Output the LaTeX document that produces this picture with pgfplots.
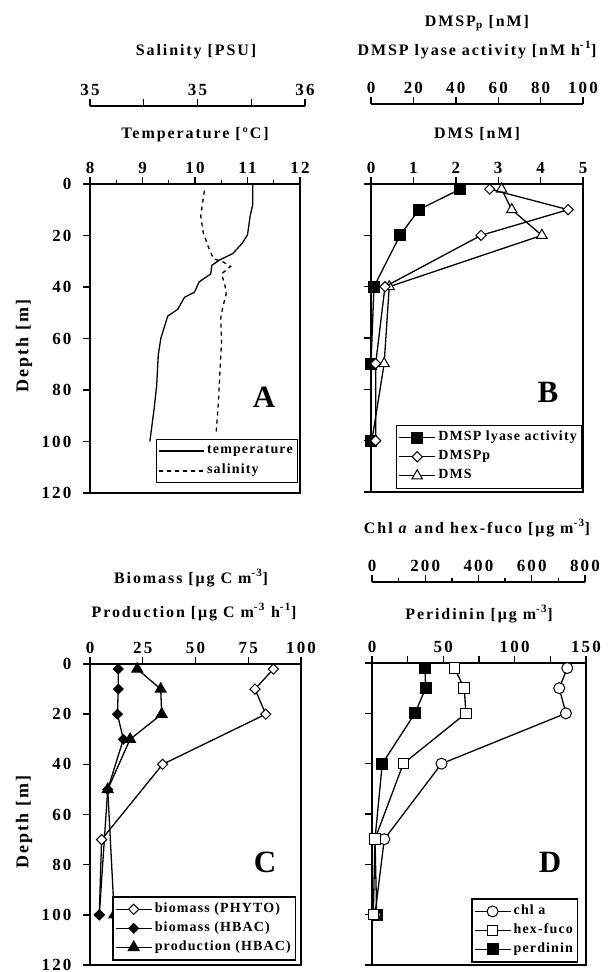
\documentclass[border=0pt]{standalone}
\usepackage{fontspec}
\setmainfont{Liberation Serif}
\newfontfamily\tf{Liberation Serif}[LetterSpace=12]
\newfontfamily\tkf{Liberation Serif}[LetterSpace=13]
\newfontfamily\lgf{Liberation Serif}[LetterSpace=8]
\usepackage{pgfplots}
\pgfplotsset{compat=1.18}
\newcommand{\TT}{\tf\bfseries\fontsize{16}{18}\selectfont}
\newcommand{\TD}{\tf\bfseries\fontsize{18}{20}\selectfont}
\newcommand{\TK}{\tkf\bfseries\fontsize{17}{19}\selectfont}
\newcommand{\LG}{\lgf\bfseries\fontsize{14}{16}\selectfont}
\pgfplotsset{
  leg/.style={
    legend cell align=left,
    legend style={font=\LG, draw=black, line width=1.3pt, fill=white, inner xsep=2pt, inner ysep=3pt,
      nodes={inner sep=2.5pt, text height=10pt, text depth=4pt}},
    legend image code/.code={\draw[mark repeat=2,mark phase=2,##1] plot coordinates {(0pt,0pt) (18pt,0pt) (36pt,0pt)};},
  },
  panel/.style={
    scale only axis, y dir=reverse, ymin=0, ymax=120, ytick={0,20,...,120},
    axis line style={line width=1.6pt},
    tick align=outside, xtick pos=top, xticklabel pos=top, ytick pos=left,
    major tick length=7pt, minor tick length=4pt,
    tick style={line width=1.4pt, black},
    tick label style={font=\TK},
    yticklabel style={xshift=-8pt},
    /pgf/number format/assume math mode=true,
    clip=false, leg,
  },
  over/.style={scale only axis, y dir=reverse, ymin=0, ymax=120, hide axis, clip=false, leg},
  scalebar/.style={scale only axis, height=1pt, ymin=0, ymax=1, hide y axis, axis x line*=top,
    tick align=outside, axis line style={line width=1.6pt}, major tick length=7pt, minor tick length=4pt,
    tick style={line width=1.4pt, black}, tick label style={font=\TK},
    /pgf/number format/assume math mode=true},
  ln/.style={black, line width=1.3pt},
}
\begin{document}
\begin{tikzpicture}
\useasboundingbox (0pt,0pt) rectangle (608pt,-972pt);
%================ Panel A
\begin{axis}[panel, at={(90pt,-493pt)}, anchor=south west, width=210pt, height=309pt,
  xmin=8, xmax=12, xtick={8,9,10,11,12}, minor xtick={8.5,9.5,10.5,11.5}]
\addplot[ln, no marks] coordinates {(11.10,0) (11.10,8) (11.05,12.5) (11.0,19.7) (10.9,23) (10.72,27) (10.46,29.6) (10.32,31.6) (10.30,34.9) (10.08,38) (9.99,42) (9.80,44) (9.67,48.7) (9.48,51.3) (9.35,59.9) (9.30,66.4) (9.27,78.3) (9.22,87.5) (9.14,100)};
\end{axis}
\begin{axis}[over, at={(90pt,-493pt)}, anchor=south west, width=210pt, height=309pt,
  xmin=35, xmax=35.9767,
  legend image code/.code={\draw[#1] (0pt,0pt) -- (45pt,0pt);},
  legend style={at={(0.99,0.032)}, anchor=south east, inner ysep=2pt, row sep=1pt}]
\addlegendimage{ln}
\addlegendentry{temperature}
\addplot[ln, no marks, dash pattern=on 4pt off 4pt] coordinates {(35.532,2.6) (35.524,7.2) (35.515,12.5) (35.527,19) (35.55,24.3) (35.574,29) (35.62,30.3) (35.654,32) (35.612,34.9) (35.628,39.5) (35.633,42.8) (35.617,48) (35.608,52) (35.612,61) (35.605,71.7) (35.597,85) (35.586,97.4)};
\addlegendentry{salinity}
\end{axis}
\begin{axis}[scalebar, at={(90pt,-106pt)}, anchor=north west, width=215pt,
  xmin=35, xmax=36, xtick={35,35.25,35.5,35.75,36}, xticklabels={35,,35,,36}]
\end{axis}
\node[font=\TT, anchor=base] at (196pt,-55pt) {Salinity [PSU]};
\node[font=\TT, anchor=base] at (195pt,-138pt) {Temperature [ºC]};
\node[font=\TD, rotate=90] at (24pt,-346pt) {Depth [m]};
\node[font=\bfseries\fontsize{31}{33}\selectfont] at (264pt,-397pt) {A};
%================ Panel B
\begin{axis}[panel, at={(371pt,-492pt)}, anchor=south west, width=212pt, height=308pt,
  xmin=0, xmax=5, xtick={0,1,2,3,4,5}, yticklabels={}]
\addplot[ln, mark=triangle*, mark size=6pt, mark options={fill=white, line width=1pt}] coordinates {(3.08,2) (3.32,10) (4.03,20) (0.43,40) (0.31,70) (0.02,100)};
\end{axis}
\begin{axis}[over, at={(371pt,-492pt)}, anchor=south west, width=212pt, height=308pt,
  xmin=0, xmax=100, legend style={at={(0.995,0.01)}, anchor=south east}]
\addplot[ln, mark=square*, mark size=5.5pt, mark options={fill=black}] coordinates {(42,2) (22.6,10) (13.7,20) (1.4,40) (0,70) (0,100)};
\addlegendentry{DMSP lyase activity}
\addplot[ln, mark=square*, mark size=3.6pt, mark options={rotate=45, fill=white, line width=1pt}] coordinates {(56,2) (93,10) (51.9,20) (6.6,40) (2.2,70) (2.2,100)};
\addlegendentry{DMSPp}
\addlegendimage{ln, mark=triangle*, mark size=6pt, mark options={fill=white, line width=1pt}}
\addlegendentry{DMS}
\end{axis}
\begin{axis}[scalebar, at={(371pt,-104pt)}, anchor=north west, width=212pt,
  xmin=0, xmax=100, xtick={0,20,...,100}]
\end{axis}
\node[font=\TT, anchor=base] at (477pt,-26pt) {DMSP\textsubscript{p} [nM]};
\node[font=\TT, anchor=base] at (477pt,-55pt) {DMSP lyase activity [nM h\textsuperscript{-1}]};
\node[font=\TT, anchor=base] at (477pt,-138pt) {DMS [nM]};
\node[font=\bfseries\fontsize{31}{33}\selectfont] at (548pt,-392pt) {B};
%================ Panel C
\begin{axis}[panel, at={(90pt,-965pt)}, anchor=south west, width=211pt, height=301pt,
  xmin=0, xmax=100, xtick={0,25,50,75,100},
  legend style={at={(0.976,0.015)}, anchor=south east}]
\addplot[ln, mark=square*, mark size=3.6pt, mark options={rotate=45, fill=white, line width=1pt}] coordinates {(86.9,2) (78.2,10) (83.3,20) (34.4,40) (5.5,70) (4.4,100)};
\addlegendentry{biomass (PHYTO)}
\addplot[ln, mark=square*, mark size=3.3pt, mark options={rotate=45, fill=black}] coordinates {(13.4,2) (13.4,10) (13.0,20) (15.8,30) (8.4,50) (4.4,100)};
\addlegendentry{biomass (HBAC)}
\addplot[ln, mark=triangle*, mark size=6pt, mark options={fill=black}] coordinates {(22.4,2) (33.5,10) (34.0,20) (19.0,30) (8.4,50) (11.5,100)};
\addlegendentry{production (HBAC)}
\end{axis}
\node[font=\TT, anchor=base] at (191pt,-583pt) {Biomass [μg C m\textsuperscript{-3}]};
\node[font=\TT, anchor=base] at (194pt,-617pt) {Production [μg C m\textsuperscript{-3} h\textsuperscript{-1}]};
\node[font=\TD, rotate=90] at (24pt,-822pt) {Depth [m]};
\node[font=\bfseries\fontsize{31}{33}\selectfont] at (265pt,-862pt) {C};
%================ Panel D
\begin{axis}[panel, at={(372pt,-965pt)}, anchor=south west, width=214pt, height=302pt,
  xmin=0, xmax=150, xtick={0,25,...,150}, xticklabels={0,,50,,100,,150}, yticklabels={}]
\addplot[ln, mark=square*, mark size=5.3pt, mark options={fill=black}] coordinates {(37.1,2) (37.6,10) (30.1,20) (7.2,40) (2.1,70) (3.3,100)};
\end{axis}
\begin{axis}[over, at={(372pt,-965pt)}, anchor=south west, width=214pt, height=302pt,
  xmin=0, xmax=800, legend style={at={(0.963,0.008)}, anchor=south east}]
\addplot[ln, mark=*, mark size=5.5pt, mark options={fill=white, line width=1pt}] coordinates {(730,2) (700,10) (725,20) (260,40) (46,70) (11,100)};
\addlegendentry{chl a}
\addplot[ln, mark=square*, mark size=5.3pt, mark options={fill=white, line width=1pt}] coordinates {(308,2) (345,10) (351,20) (117,40) (11,70) (5,100)};
\addlegendentry{hex-fuco}
\addlegendimage{ln, mark=square*, mark size=5.3pt, mark options={fill=black}}
\addlegendentry{perdinin}
\end{axis}
\begin{axis}[scalebar, at={(372pt,-582pt)}, anchor=north west, width=213pt,
  xmin=0, xmax=800, xtick={0,200,...,800}, minor xtick={100,300,500,700}]
\end{axis}
\node[font=\TT, anchor=base] at (477pt,-533pt) {Chl \textit{a} and hex-fuco [μg m\textsuperscript{-3}]};
\node[font=\TT, anchor=base] at (479pt,-619pt) {Peridinin [μg m\textsuperscript{-3}]};
\node[font=\bfseries\fontsize{31}{33}\selectfont] at (550pt,-862pt) {D};
\end{tikzpicture}
\end{document}
